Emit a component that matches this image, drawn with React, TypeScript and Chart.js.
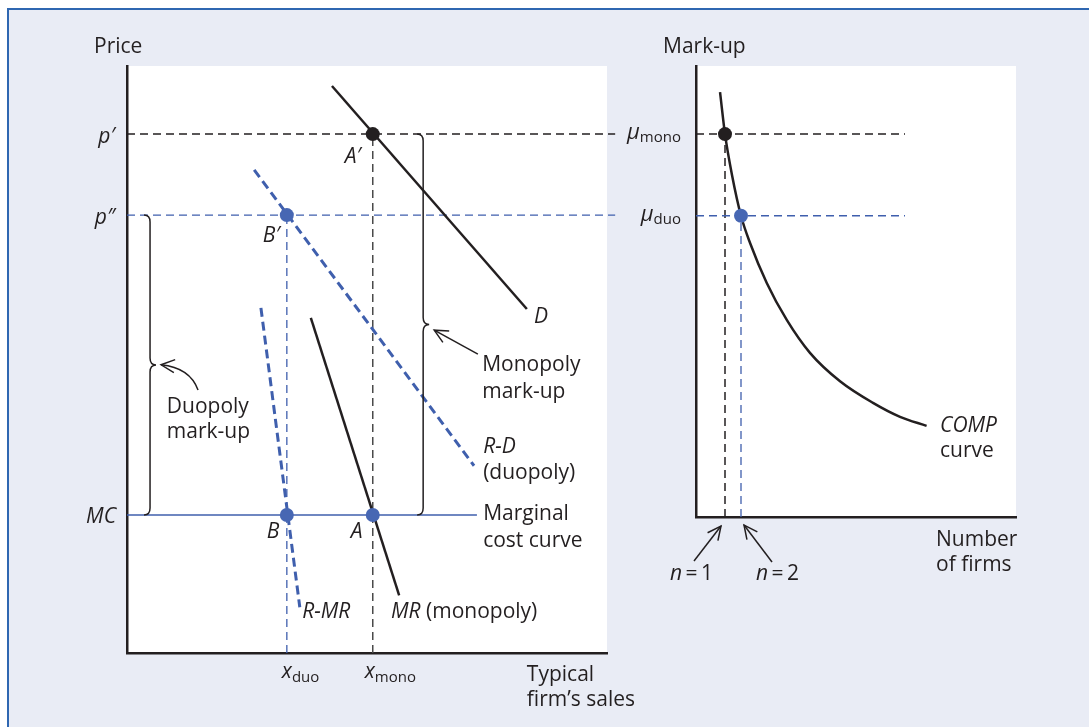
import React, { useEffect, useRef } from "react";
import { Chart, registerables } from "chart.js";
Chart.register(...registerables);

const W = 1089;
const H = 727;
const INK = "#231f20";
const GREY = "#4a4a4a";
const BLUE = "#3f5fad";
const BLUE_PT = "#4767b3";
const BG = "#e9ecf5";
const FRAME = "#2f67b1";
const FONT = "'Open Sans', sans-serif";

// ---------- Left panel: typical firm's sales vs price ----------
const X_DUO = 3.33;
const X_MONO = 5.12;
const P_MONO = 8.84;
const P_DUO = 7.46;
const MC_LEVEL = 2.35;
const demandX = [4.27, 8.33];
const demandY = [9.66, 5.86];
const residDemandX = [2.65, 7.23];
const residDemandY = [8.23, 3.19];
const mrX = [3.83, 5.67];
const mrY = [5.71, 0.98];
const residMrX = [2.79, 3.6];
const residMrY = [5.88, 0.78];
const mcX = [0, 7.29];
const guideEndX = 10.17;

// ---------- Right panel: number of firms vs mark-up ----------
const N_MONO = 1;
const N_DUO = 2;
const MU_MONO = 8.49;
const MU_DUO = 6.68;
const compN = [0.69, 1, 1.44, 2, 2.56, 3.61, 4.86, 6.31, 8.19, 10.25, 11.94, 13.6];
const compMu = [9.42, 8.49, 7.58, 6.68, 6.08, 5.19, 4.37, 3.64, 3.01, 2.53, 2.22, 2.02];
const rightGuideStart = -0.8125;
const rightGuideEnd = 12.25;

const pts = (xs: number[], ys: number[]) => xs.map((x, i) => ({ x, y: ys[i] }));

function lineDs(data: any[], color: string, width: number, dash: number[] = [], extra: any = {}) {
  return {
    data,
    showLine: true,
    borderColor: color,
    backgroundColor: color,
    borderWidth: width,
    borderDash: dash,
    pointRadius: 0,
    pointHoverRadius: 0,
    fill: false,
    tension: 0,
    ...extra,
  };
}

function pointDs(x: number, y: number, color: string) {
  return {
    data: [{ x, y }],
    showLine: false,
    pointRadius: 7,
    pointHoverRadius: 7,
    pointBackgroundColor: color,
    pointBorderWidth: 0,
    borderWidth: 0,
  };
}

function txt(ctx: CanvasRenderingContext2D, s: string, x: number, y: number, o: any = {}) {
  ctx.font = `${o.italic ? "italic " : ""}${o.size || 21}px ${FONT}`;
  ctx.textAlign = o.align || "left";
  ctx.textBaseline = "alphabetic";
  ctx.fillStyle = o.color || INK;
  ctx.fillText(s, x, y);
  return ctx.measureText(s).width;
}

// parts: [text, italic, size, dy]
function runs(ctx: CanvasRenderingContext2D, parts: any[], x: number, y: number, align = "left") {
  const widths = parts.map((p) => {
    ctx.font = `${p[1] ? "italic " : ""}${p[2]}px ${FONT}`;
    return ctx.measureText(p[0]).width;
  });
  const total = widths.reduce((a, b) => a + b, 0);
  let cx = align === "right" ? x - total : x;
  parts.forEach((p, i) => {
    txt(ctx, p[0], cx, y + (p[3] || 0), { italic: p[1], size: p[2] });
    cx += widths[i];
  });
}

function brace(ctx: CanvasRenderingContext2D, x: number, yTop: number, yBot: number) {
  const yMid = (yTop + yBot) / 2;
  const r = 7;
  ctx.beginPath();
  ctx.moveTo(x - 6, yTop);
  ctx.quadraticCurveTo(x, yTop, x, yTop + r);
  ctx.lineTo(x, yMid - r);
  ctx.quadraticCurveTo(x, yMid, x + 6, yMid);
  ctx.quadraticCurveTo(x, yMid, x, yMid + r);
  ctx.lineTo(x, yBot - r);
  ctx.quadraticCurveTo(x, yBot, x - 6, yBot);
  ctx.stroke();
}

function head(ctx: CanvasRenderingContext2D, fx: number, fy: number, tx: number, ty: number) {
  const ang = Math.atan2(ty - fy, tx - fx);
  const L = 15;
  const s = 0.45;
  ctx.beginPath();
  ctx.moveTo(tx - L * Math.cos(ang - s), ty - L * Math.sin(ang - s));
  ctx.lineTo(tx, ty);
  ctx.lineTo(tx - L * Math.cos(ang + s), ty - L * Math.sin(ang + s));
  ctx.stroke();
}

function arrow(ctx: CanvasRenderingContext2D, x1: number, y1: number, x2: number, y2: number) {
  ctx.beginPath();
  ctx.moveTo(x1, y1);
  ctx.lineTo(x2, y2);
  ctx.stroke();
  head(ctx, x1, y1, x2, y2);
}

const whiteArea = {
  id: "whiteArea",
  beforeDraw(chart: any) {
    const { ctx, chartArea: a } = chart;
    ctx.save();
    ctx.fillStyle = "#ffffff";
    ctx.fillRect(a.left, a.top, a.right - a.left, a.bottom - a.top);
    ctx.restore();
  },
};

const leftAnno = {
  id: "leftAnno",
  afterDraw(chart: any) {
    const { ctx, chartArea: a, scales } = chart;
    const X = (v: number) => scales.x.getPixelForValue(v);
    const Y = (v: number) => scales.y.getPixelForValue(v);
    ctx.save();
    txt(ctx, "Price", a.left - 33, a.top - 13);
    txt(ctx, "p\u2032", a.left - 12, Y(P_MONO) + 9, { italic: true, align: "right" });
    txt(ctx, "p\u2033", a.left - 12, Y(P_DUO) + 9, { italic: true, align: "right" });
    txt(ctx, "MC", a.left - 11, Y(MC_LEVEL) + 8, { italic: true, align: "right" });
    runs(ctx, [["x", true, 21, 0], ["duo", false, 15, 4]], X(X_DUO) - 5, a.bottom + 25);
    runs(ctx, [["x", true, 21, 0], ["mono", false, 15, 4]], X(X_MONO) - 8, a.bottom + 25);
    txt(ctx, "Typical", X(8.33), a.bottom + 28);
    txt(ctx, "firm\u2019s sales", X(8.33), a.bottom + 53);

    txt(ctx, "A\u2032", X(X_MONO) - 28, Y(P_MONO) + 29, { italic: true });
    txt(ctx, "B\u2032", X(X_DUO) - 24, Y(P_DUO) + 27, { italic: true });
    txt(ctx, "B", X(X_DUO) - 20, Y(MC_LEVEL) + 23, { italic: true });
    txt(ctx, "A", X(X_MONO) - 22, Y(MC_LEVEL) + 23, { italic: true });
    txt(ctx, "D", X(8.48), Y(5.62), { italic: true });

    txt(ctx, "Monopoly", X(7.4), Y(4.8));
    txt(ctx, "mark-up", X(7.4), Y(4.34));
    txt(ctx, "R-D", X(7.42), Y(3.41), { italic: true });
    txt(ctx, "(duopoly)", X(7.42), Y(2.96));
    txt(ctx, "Marginal", X(7.42), Y(2.27));
    txt(ctx, "cost curve", X(7.42), Y(1.81));
    txt(ctx, "Duopoly", X(0.83), Y(4.09));
    txt(ctx, "mark-up", X(0.83), Y(3.66));
    txt(ctx, "R-MR", X(3.65), Y(0.6), { italic: true });
    runs(ctx, [["MR", true, 21, 0], [" (monopoly)", false, 21, 0]], X(5.5), Y(0.6));

    ctx.strokeStyle = INK;
    ctx.lineWidth = 1.5;
    brace(ctx, X(6.17), Y(P_MONO), Y(MC_LEVEL));
    brace(ctx, X(0.48), Y(P_DUO), Y(MC_LEVEL));
    arrow(ctx, X(7.31), Y(5.09), X(6.4), Y(5.5));
    ctx.beginPath();
    ctx.moveTo(X(1.48), Y(4.48));
    ctx.quadraticCurveTo(X(1.31), Y(4.86), X(0.71), Y(4.91));
    ctx.stroke();
    head(ctx, X(1.31), Y(4.86), X(0.71), Y(4.91));
    ctx.restore();
  },
};

const rightAnno = {
  id: "rightAnno",
  afterDraw(chart: any) {
    const { ctx, chartArea: a, scales } = chart;
    const X = (v: number) => scales.x.getPixelForValue(v);
    const Y = (v: number) => scales.y.getPixelForValue(v);
    ctx.save();
    txt(ctx, "Mark-up", a.left - 33, a.top - 13);
    runs(ctx, [["\u03bc", true, 22, 0], ["mono", false, 15, 3]], a.left - 15, Y(MU_MONO) + 5, "right");
    runs(ctx, [["\u03bc", true, 22, 0], ["duo", false, 15, 3]], a.left - 15, Y(MU_DUO) + 5, "right");
    txt(ctx, "COMP", X(14.44), Y(1.88), { italic: true });
    txt(ctx, "curve", X(14.44), Y(1.33));
    txt(ctx, "Number", X(14.19), a.bottom + 29);
    txt(ctx, "of firms", X(14.19), a.bottom + 54);
    runs(ctx, [["n", true, 21, 0], ["\u2009=\u20091", false, 21, 0]], X(N_MONO) - 55, a.bottom + 63);
    runs(ctx, [["n", true, 21, 0], ["\u2009=\u20092", false, 21, 0]], X(N_DUO) + 15, a.bottom + 63);
    ctx.strokeStyle = INK;
    ctx.lineWidth = 1.5;
    arrow(ctx, X(N_MONO) - 31, a.bottom + 44, X(N_MONO) - 4, a.bottom + 9);
    arrow(ctx, X(N_DUO) + 31, a.bottom + 45, X(N_DUO) + 3, a.bottom + 8);
    ctx.restore();
  },
};

function axis(min: number, max: number, horizontal: boolean) {
  return {
    type: "linear",
    min,
    max,
    grid: { display: false, drawTicks: false, tickLength: 0 },
    ticks: { display: false },
    border: { display: true, color: INK, width: 2.5 },
    afterFit(s: any) {
      if (horizontal) s.height = 0;
      else s.width = 0;
    },
  };
}

function baseOptions(padding: any, xr: number[], yr: number[]) {
  return {
    responsive: false,
    animation: false,
    devicePixelRatio: 1,
    events: [],
    layout: { padding },
    plugins: { legend: { display: false }, tooltip: { enabled: false }, title: { display: false } },
    scales: { x: axis(xr[0], xr[1], true), y: axis(yr[0], yr[1], false) },
  };
}

function leftConfig(): any {
  return {
    type: "scatter",
    data: {
      datasets: [
        pointDs(X_MONO, P_MONO, INK),
        pointDs(X_DUO, P_DUO, BLUE_PT),
        pointDs(X_DUO, MC_LEVEL, BLUE_PT),
        pointDs(X_MONO, MC_LEVEL, BLUE_PT),
        lineDs(pts(demandX, demandY), INK, 2.5),
        lineDs(pts(mrX, mrY), INK, 2.5),
        lineDs(pts(residDemandX, residDemandY), BLUE, 3, [9, 5]),
        lineDs(pts(residMrX, residMrY), BLUE, 3, [9, 5]),
        lineDs(pts(mcX, [MC_LEVEL, MC_LEVEL]), BLUE, 1.5),
        lineDs(pts([0, guideEndX], [P_MONO, P_MONO]), INK, 1.5, [8, 5], { clip: false }),
        lineDs(pts([0, guideEndX], [P_DUO, P_DUO]), BLUE, 1.3, [8, 5], { clip: false }),
        lineDs(pts([X_MONO, X_MONO], [0, P_MONO]), GREY, 1.5, [8, 5]),
        lineDs(pts([X_DUO, X_DUO], [0, P_DUO]), BLUE, 1.3, [8, 5]),
      ],
    },
    options: baseOptions({ left: 127, right: W - 607, top: 66, bottom: H - 653 }, [0, 10], [0, 10]),
    plugins: [whiteArea, leftAnno],
  };
}

function rightConfig(): any {
  return {
    type: "scatter",
    data: {
      datasets: [
        pointDs(N_MONO, MU_MONO, INK),
        pointDs(N_DUO, MU_DUO, BLUE_PT),
        lineDs(pts(compN, compMu), INK, 2.5, [], { cubicInterpolationMode: "monotone" }),
        lineDs(pts([rightGuideStart, rightGuideEnd], [MU_MONO, MU_MONO]), INK, 1.5, [8, 5]),
        lineDs(pts([rightGuideStart, rightGuideEnd], [MU_DUO, MU_DUO]), BLUE, 1.3, [8, 5]),
        lineDs(pts([N_MONO, N_MONO], [0, MU_MONO]), INK, 1.5, [8, 5]),
        lineDs(pts([N_DUO, N_DUO], [0, MU_DUO]), BLUE, 1.3, [8, 5]),
      ],
    },
    options: baseOptions({ left: 696, right: W - 1016, top: 66, bottom: H - 517 }, [-0.8125, 19.1875], [0, 10]),
    plugins: [whiteArea, rightAnno],
  };
}

export default function App() {
  const leftRef = useRef<HTMLCanvasElement>(null);
  const rightRef = useRef<HTMLCanvasElement>(null);
  useEffect(() => {
    const c1 = new Chart(leftRef.current as HTMLCanvasElement, leftConfig());
    const c2 = new Chart(rightRef.current as HTMLCanvasElement, rightConfig());
    return () => {
      c1.destroy();
      c2.destroy();
    };
  }, []);
  const cs: React.CSSProperties = { position: "absolute", left: 0, top: 0, width: W, height: H };
  return (
    <div style={{ position: "fixed", left: 0, top: 0, width: W, height: H, background: "#fff", overflow: "hidden" }}>
      <div
        style={{
          position: "absolute",
          left: 7,
          top: 8,
          width: W + 50,
          height: H + 50,
          background: BG,
          borderTop: `2px solid ${FRAME}`,
          borderLeft: `2px solid ${FRAME}`,
        }}
      />
      <canvas ref={leftRef} width={W} height={H} style={cs} />
      <canvas ref={rightRef} width={W} height={H} style={cs} />
    </div>
  );
}
